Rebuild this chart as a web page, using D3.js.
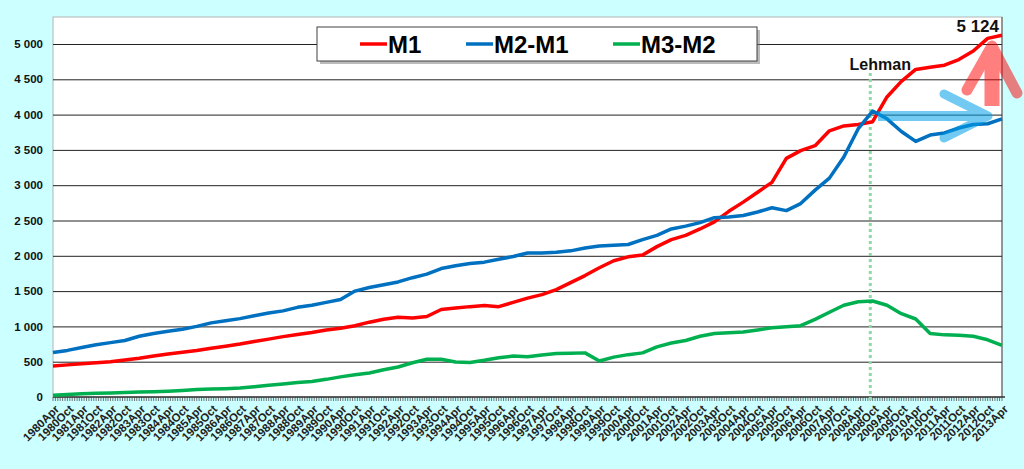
<!DOCTYPE html>
<html>
<head>
<meta charset="utf-8">
<script src="https://cdn.jsdelivr.net/npm/d3@7"></script>
<style>
  body { margin: 0; background: #ccffff; }
  svg { display: block; font-family: "Liberation Sans", Arial, sans-serif; }
</style>
</head>
<body>
<div id="chart"></div>
<script>
// data (semi-annual readings)
const periods = [
  "1980Apr","1980Oct","1981Apr","1981Oct","1982Apr","1982Oct","1983Apr","1983Oct",
  "1984Apr","1984Oct","1985Apr","1985Oct","1986Apr","1986Oct","1987Apr","1987Oct",
  "1988Apr","1988Oct","1989Apr","1989Oct","1990Apr","1990Oct","1991Apr","1991Oct",
  "1992Apr","1992Oct","1993Apr","1993Oct","1994Apr","1994Oct","1995Apr","1995Oct",
  "1996Apr","1996Oct","1997Apr","1997Oct","1998Apr","1998Oct","1999Apr","1999Oct",
  "2000Apr","2000Oct","2001Apr","2001Oct","2002Apr","2002Oct","2003Apr","2003Oct",
  "2004Apr","2004Oct","2005Apr","2005Oct","2006Apr","2006Oct","2007Apr","2007Oct",
  "2008Apr","2008Oct","2009Apr","2009Oct","2010Apr","2010Oct","2011Apr","2011Oct",
  "2012Apr","2012Oct","2013Apr"
]
const m1 = [
  440,455,470,485,500,525,550,580,610,635,660,690,720,750,785,820,
  855,885,915,950,975,1010,1060,1100,1130,1120,1140,1240,1260,1280,1295,1280,
  1340,1400,1450,1520,1620,1720,1830,1930,1985,2010,2130,2230,2290,2380,2480,2630,
  2760,2900,3040,3380,3490,3560,3770,3840,3860,3900,4250,4470,4640,4670,4700,4780,
  4900,5080,5124
]
const m2m1 = [
  630,660,700,740,770,800,860,900,930,960,1000,1050,1080,1110,1150,1190,
  1220,1270,1300,1340,1380,1500,1550,1590,1630,1690,1740,1820,1860,1890,1910,1950,
  1990,2040,2040,2050,2070,2110,2140,2150,2160,2230,2290,2380,2420,2470,2540,2550,
  2570,2620,2680,2640,2740,2930,3100,3400,3800,4050,3940,3760,3620,3710,3740,3810,
  3860,3870,3940
]
const m3m2 = [
  25,35,45,52,58,64,70,76,82,92,105,112,118,127,145,165,
  185,205,220,250,285,315,340,385,425,485,535,535,495,490,520,555,
  580,570,595,615,620,625,510,565,600,625,710,765,800,860,900,910,
  920,950,980,995,1010,1100,1200,1300,1350,1360,1300,1180,1105,900,880,875,
  860,810,730
]
const seriesNames = ["M1", "M2-M1", "M3-M2"]
const seriesColors = ["#ff0000", "#0070c0", "#00b050"]
const yTicks = [0,500,1000,1500,2000,2500,3000,3500,4000,4500,5000]
const lehmanPeriod = "2008Sep"

// const
const width = 1024
const height = 469
const plot = { left: 53, right: 1002, top: 17, bottom: 397 }

const parse = d3.timeParse("%Y%b")
const dates = periods.map(parse)
const fmt = d3.formatLocale({ decimal: ",", thousands: " ", grouping: [3], currency: ["", ""] }).format(",")

const x = d3.scaleTime()
    .domain([dates[0], dates[dates.length - 1]])
    .range([plot.left, plot.right])
const y = d3.scaleLinear()
    .domain([0, 5000])
    .range([plot.bottom, 44])

const svg = d3.select("#chart")
    .append("svg")
      .attr("width", width)
      .attr("height", height)

svg.append("rect")
    .attr("width", width).attr("height", height)
    .attr("fill", "#ccffff")

// plot area
svg.append("rect")
    .attr("x", plot.left).attr("y", plot.top)
    .attr("width", plot.right - plot.left)
    .attr("height", plot.bottom - plot.top)
    .attr("fill", "#fff")
    .attr("stroke", "#b4b4b4")

svg.append("line")
    .attr("x1", plot.right).attr("x2", plot.right)
    .attr("y1", plot.top).attr("y2", plot.bottom)
    .attr("stroke", "#555")

// grid + y labels
const yAxis = d3.axisLeft(y)
    .tickValues(yTicks)
    .tickSize(-(plot.right - plot.left))
    .tickFormat(fmt)
    .tickPadding(10)
const yG = svg.append("g")
    .attr("transform", `translate(${plot.left},0)`)
    .call(yAxis)
yG.select(".domain").remove()
yG.selectAll(".tick line")
    .attr("stroke", d => d === 0 ? "none" : "#222")
yG.selectAll(".tick text")
    .attr("font-size", 11.5)
    .attr("font-weight", "bold")
    .attr("font-family", "Liberation Sans, Arial, sans-serif")
    .attr("fill", "#111")

// x axis
const months = d3.timeMonth.range(dates[0], d3.timeMonth.offset(dates[dates.length - 1], 1))
const xG = svg.append("g")
xG.selectAll("line.minor")
    .data(months)
    .join("line")
      .attr("class", "minor")
      .attr("x1", d => x(d)).attr("x2", d => x(d))
      .attr("y1", plot.bottom).attr("y2", plot.bottom + 4)
      .attr("stroke", "#555")
      .attr("stroke-width", 0.8)
xG.append("line")
    .attr("x1", plot.left).attr("x2", plot.right + 3)
    .attr("y1", plot.bottom).attr("y2", plot.bottom)
    .attr("stroke", "#333")
    .attr("stroke-width", 1.5)
xG.selectAll("text")
    .data(periods)
    .join("text")
      .attr("transform", (d, i) => `translate(${x(dates[i]) + 4},${plot.bottom + 10}) rotate(-45)`)
      .attr("text-anchor", "end")
      .attr("dy", "0.35em")
      .attr("font-size", 11.5)
      .attr("font-weight", "bold")
      .attr("fill", "#222")
      .text(d => d)

// Lehman
const lx = x(parse(lehmanPeriod))
svg.append("line")
    .attr("x1", lx).attr("x2", lx)
    .attr("y1", 73).attr("y2", plot.bottom + 5)
    .attr("stroke", "#8fd9a8")
    .attr("stroke-width", 3)
    .attr("stroke-dasharray", "3,3")
svg.append("text")
    .attr("x", lx + 10).attr("y", 70)
    .attr("text-anchor", "middle")
    .attr("font-size", 16)
    .attr("font-weight", "bold")
    .attr("fill", "#111")
    .text("Lehman")

// lines
const line = d3.line()
    .x((d, i) => x(dates[i]))
    .y(d => y(d))
const series = [m1, m2m1, m3m2]
series.forEach((s, i) => {
  svg.append("path")
      .datum(s)
      .attr("fill", "none")
      .attr("stroke", seriesColors[i])
      .attr("stroke-width", 3.5)
      .attr("stroke-linejoin", "round")
      .attr("d", line)
})

// last value label
svg.append("text")
    .attr("x", x(dates[dates.length - 1]) - 3)
    .attr("y", y(m1[m1.length - 1]) - 3)
    .attr("text-anchor", "end")
    .attr("font-size", 17)
    .attr("font-weight", "bold")
    .attr("fill", "#111")
    .text(fmt(m1[m1.length - 1]))

// arrows
const redArrow = svg.append("g").attr("opacity", 0.5)
redArrow.append("line")
    .attr("x1", 992).attr("x2", 992).attr("y1", 106).attr("y2", 55)
    .attr("stroke", "#ff0000").attr("stroke-width", 15)
redArrow.append("path")
    .attr("d", "M967,90L992,46L1017,93")
    .attr("fill", "none")
    .attr("stroke", "#ff0000").attr("stroke-width", 11)
    .attr("stroke-linecap", "round").attr("stroke-linejoin", "round")

const blueArrow = svg.append("g").attr("opacity", 0.55)
blueArrow.append("line")
    .attr("x1", 878).attr("x2", 984).attr("y1", 116).attr("y2", 116)
    .attr("stroke", "#00a0e8").attr("stroke-width", 10)
blueArrow.append("path")
    .attr("d", "M944,94L988,116L944,138")
    .attr("fill", "none")
    .attr("stroke", "#00a0e8").attr("stroke-width", 9)
    .attr("stroke-linecap", "round").attr("stroke-linejoin", "round")

// legend
const legend = svg.append("g")
legend.append("rect")
    .attr("x", 320).attr("y", 30).attr("width", 440).attr("height", 34)
    .attr("fill", "#777").attr("opacity", 0.5)
legend.append("rect")
    .attr("x", 317).attr("y", 27).attr("width", 440).attr("height", 34)
    .attr("fill", "#fff").attr("stroke", "#404040")
const legendX = [360, 466, 613]
seriesNames.forEach((n, i) => {
  legend.append("line")
      .attr("x1", legendX[i]).attr("x2", legendX[i] + 27)
      .attr("y1", 44).attr("y2", 44)
      .attr("stroke", seriesColors[i]).attr("stroke-width", 3.5)
  legend.append("text")
      .attr("x", legendX[i] + 28).attr("y", 52.5)
      .attr("font-size", 24)
      .attr("font-weight", "bold")
      .attr("fill", "#000")
      .text(n)
})
</script>
</body>
</html>
